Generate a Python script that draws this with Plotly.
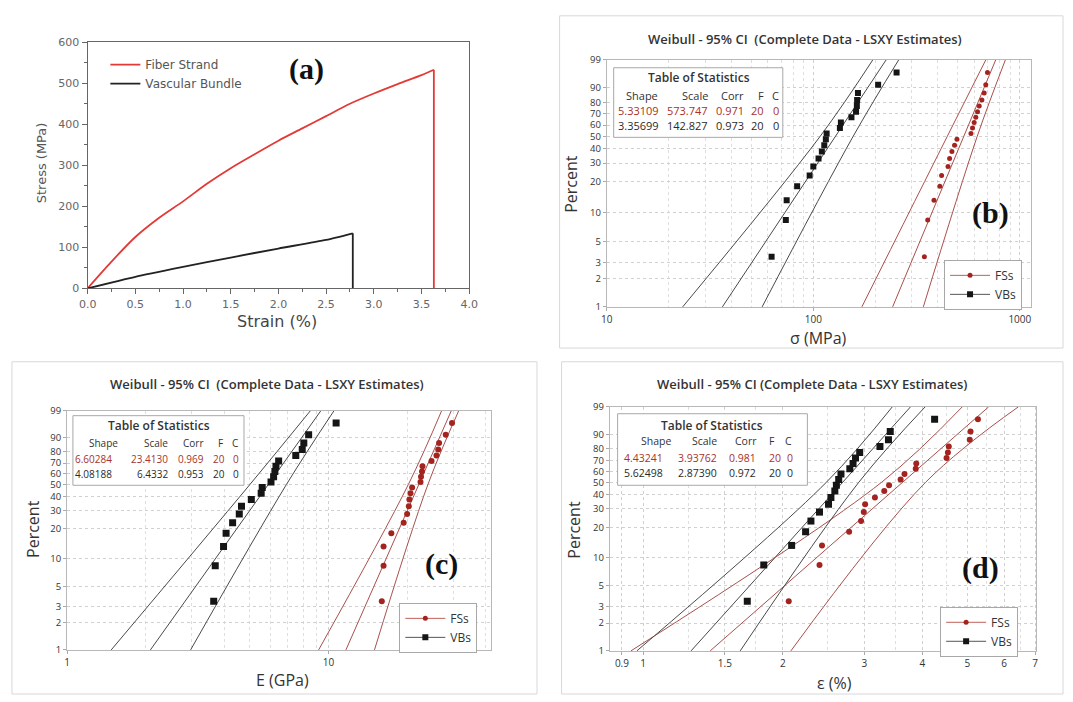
import numpy as np
import plotly.graph_objects as go

W, H = 1073, 702

# ---------------- panel (a): stress-strain curves ----------------
strain_fs = [0, 0.25, 0.5, 0.75, 1.0, 1.25, 1.5, 1.75, 2.0, 2.25, 2.5, 2.75, 3.0, 3.25, 3.5, 3.63]
stress_fs = [0, 65, 125, 172, 212, 255, 293, 327, 360, 390, 420, 450, 475, 498, 520, 533]
strain_vb = [0, 0.5, 1.0, 1.5, 2.0, 2.5, 2.78]
stress_vb = [0, 28, 52, 75, 97, 118, 134]
break_stress = 0  # both curves drop to zero at failure

# ---------------- Weibull plots: median-rank percents ----------------
pct = [3.43, 8.33, 13.24, 18.14, 23.04, 27.94, 32.84, 37.75, 42.65, 47.55,
       52.45, 57.35, 62.25, 67.16, 72.06, 76.96, 81.86, 86.76, 91.67, 96.57]

b_fs = [345, 358, 384, 410, 418, 449, 457, 469, 483, 496, 580, 590, 601, 612, 624, 636, 655, 672, 684, 697]
b_vb = [62.8, 73.6, 74.3, 83.5, 96, 100, 106, 110, 113, 115, 116, 134.5, 136, 153, 161, 162.5, 163, 164.5, 206, 253]
c_fs = [16.0, 16.25, 16.25, 17.4, 19.4, 20.0, 20.3, 20.4, 20.6, 20.9, 22.5, 22.6, 22.8, 22.9, 24.8, 25.9, 26.3, 26.5, 28.1, 29.7]
c_vb = [3.64, 3.69, 3.97, 4.06, 4.30, 4.56, 4.65, 5.07, 5.53, 5.58, 6.03, 6.17, 6.24, 6.30, 6.45, 7.50, 7.94, 8.05, 8.4, 10.7]
d_fs = [2.06, 2.40, 2.43, 2.78, 2.95, 2.99, 3.01, 3.16, 3.31, 3.39, 3.59, 3.66, 3.87, 3.88, 4.51, 4.54, 4.56, 5.06, 5.08, 5.27]
d_vb = [1.677, 1.82, 2.09, 2.24, 2.30, 2.40, 2.51, 2.54, 2.59, 2.61, 2.64, 2.67, 2.79, 2.835, 2.87, 2.93, 3.24, 3.38, 3.41, 4.25]

# confidence-interval curves read at these percents
ci_pct = [1, 50, 99]
b_fs_lo = [171.8, 445.6, 684]
b_fs_hi = [341, 622, 851]
b_vb_lo = [23.3, 108, 194]
b_vb_hi = [56.5, 156, 259]
c_fs_lo = [9.17, 20.2, 27.1]
c_fs_hi = [15.0, 24.0, 31.5]
c_vb_lo = [1.476, 5.0, 8.53]
c_vb_hi = [2.97, 6.9, 10.5]
d_fs_lo = [0.941, 3.266, 4.875]
d_fs_hi = [2.082, 4.064, 6.44]
d_vb_lo = [0.969, 2.483, 3.445]
d_vb_hi = [1.619, 2.917, 4.055]

fit_pct = [1, 99]

# tables of statistics: Shape, Scale, Corr, F, C   (row 0 = FSs, row 1 = VBs)
table_head = ["Shape", "Scale", "Corr", "F", "C"]
b_table = [["5.33109", "573.747", "0.971", "20", "0"], ["3.35699", "142.827", "0.973", "20", "0"]]
c_table = [["6.60284", "23.4130", "0.969", "20", "0"], ["4.08188", "6.4332", "0.953", "20", "0"]]
d_table = [["4.43241", "3.93762", "0.981", "20", "0"], ["5.62498", "2.87390", "0.972", "20", "0"]]

pct_ticks = [1, 2, 3, 5, 10, 20, 30, 40, 50, 60, 70, 80, 90, 99]
b_xticks = [10, 100, 1000]
c_xticks = [1, 10]
d_xticks = [0.9, 1, 1.5, 2, 3, 4, 5, 6, 7]
b_minor = [20, 30, 40, 50, 60, 70, 80, 90, 200, 300, 400, 500, 600, 700, 800, 900]
c_minor = [2, 3, 4, 5, 6, 7, 8, 9, 20, 30, 40]
d_minor = [1.25, 1.75, 2.5, 3.5, 4.5, 5.5, 6.5]


def wt(p):
    p = np.asarray(p, dtype=float) / 100.0
    return np.log(-np.log(1.0 - p))


def fx(px):
    return px / W


def fy(py):
    return 1 - py / H


RED_A = "#e23a36"
FS_C = "#a3241f"
FS_L = "#a8504c"
VB_C = "#151515"
VB_L = "#4a4a4a"
TF = "Open Sans"

fig = go.Figure()

# ---- panel (a)
fig.add_trace(go.Scatter(x=strain_fs, y=stress_fs, mode="lines", name="Fiber Strand",
                         line=dict(color=RED_A, width=1.8, shape="spline", smoothing=0.8),
                         xaxis="x", yaxis="y", legend="legend"))
fig.add_trace(go.Scatter(x=[strain_fs[-1], strain_fs[-1]], y=[stress_fs[-1], break_stress], mode="lines",
                         line=dict(color=RED_A, width=1.8), xaxis="x", yaxis="y", showlegend=False))
fig.add_trace(go.Scatter(x=strain_vb, y=stress_vb, mode="lines", name="Vascular Bundle",
                         line=dict(color="#222222", width=1.8, shape="spline", smoothing=0.6),
                         xaxis="x", yaxis="y", legend="legend"))
fig.add_trace(go.Scatter(x=[strain_vb[-1], strain_vb[-1]], y=[stress_vb[-1], break_stress], mode="lines",
                         line=dict(color="#222222", width=1.8), xaxis="x", yaxis="y", showlegend=False))

msize = {2: (5, 6), 3: (6, 7), 4: (6, 7)}
panels = [
    (2, b_fs, b_vb, b_fs_lo, b_fs_hi, b_vb_lo, b_vb_hi, b_table),
    (3, c_fs, c_vb, c_fs_lo, c_fs_hi, c_vb_lo, c_vb_hi, c_table),
    (4, d_fs, d_vb, d_fs_lo, d_fs_hi, d_vb_lo, d_vb_hi, d_table),
]

for n, fsd, vbd, fslo, fshi, vblo, vbhi, tab in panels:
    xa, ya, lg = f"x{n}", f"y{n}", f"legend{n}"
    for row, col_l in ((tab[0], FS_L), (tab[1], VB_L)):
        shape, scale = float(row[0]), float(row[1])
        fp = np.asarray(fit_pct, dtype=float) / 100.0
        xs = scale * (-np.log(1 - fp)) ** (1.0 / shape)
        fig.add_trace(go.Scatter(x=xs, y=wt(fit_pct), mode="lines", line=dict(color=col_l, width=1),
                                 xaxis=xa, yaxis=ya, showlegend=False, hoverinfo="skip"))
    for arr, col_l in ((fslo, FS_L), (fshi, FS_L), (vblo, VB_L), (vbhi, VB_L)):
        fig.add_trace(go.Scatter(x=arr, y=wt(ci_pct), mode="lines",
                                 line=dict(color=col_l, width=1, shape="spline", smoothing=1.0),
                                 xaxis=xa, yaxis=ya, showlegend=False, hoverinfo="skip"))
    s_fs, s_vb = msize[n]
    fig.add_trace(go.Scatter(x=fsd, y=wt(pct), mode="markers", showlegend=False,
                             marker=dict(symbol="circle", size=s_fs, color=FS_C),
                             xaxis=xa, yaxis=ya))
    fig.add_trace(go.Scatter(x=vbd, y=wt(pct), mode="markers", showlegend=False,
                             marker=dict(symbol="square", size=s_vb, color=VB_C),
                             xaxis=xa, yaxis=ya))
    # legend entries
    fig.add_trace(go.Scatter(x=[None], y=[None], mode="lines+markers", name="FSs",
                             line=dict(color="#c0605a", width=1), marker=dict(symbol="circle", size=5, color=FS_C),
                             xaxis=xa, yaxis=ya, legend=lg))
    fig.add_trace(go.Scatter(x=[None], y=[None], mode="lines+markers", name="VBs",
                             line=dict(color="#555555", width=1), marker=dict(symbol="square", size=6, color=VB_C),
                             xaxis=xa, yaxis=ya, legend=lg))

layout = dict(
    width=W, height=H, margin=dict(l=0, r=0, t=0, b=0),
    paper_bgcolor="white", plot_bgcolor="white", showlegend=True,
    font=dict(family=TF, color="#333"),
)

# axes panel (a)
layout["xaxis"] = dict(domain=[fx(80), fx(468)], anchor="y", range=[0, 4], dtick=0.5, tickformat=".1f",
                       showline=True, linecolor="#666", linewidth=1.2, mirror=True, ticks="outside",
                       ticklen=5, tickcolor="#666", showgrid=False, zeroline=False,
                       tickfont=dict(family="DejaVu Sans", size=11, color="#666"),
                       minor=dict(dtick=0.25, ticks="outside", ticklen=3, tickcolor="#666"))
layout["yaxis"] = dict(domain=[fy(287), fy(36)], anchor="x", range=[0, 600], dtick=100,
                       showline=True, linecolor="#666", linewidth=1.2, mirror=True, ticks="outside",
                       ticklen=5, tickcolor="#666", showgrid=False, zeroline=False,
                       tickfont=dict(family="DejaVu Sans", size=11, color="#666"),
                       minor=dict(dtick=50, ticks="outside", ticklen=3, tickcolor="#666"))

ylo, yhi = float(wt([1])[0]), float(wt([99])[0])
geo = {
    2: dict(x=(608, 1039), y=(54, 306), xr=[1, 3.052], xt=b_xticks, mn=b_minor),
    3: dict(x=(59, 490), y=(412, 656), xr=[0, 1.621], xt=c_xticks, mn=c_minor),
    4: dict(x=(611, 1045), y=(408, 657), xr=[-0.072, 0.848], xt=d_xticks, mn=d_minor),
}
for n, g in geo.items():
    layout[f"xaxis{n}"] = dict(domain=[fx(g["x"][0]), fx(g["x"][1])], anchor=f"y{n}", type="log",
                               range=g["xr"], tickmode="array", tickvals=g["xt"],
                               ticktext=[str(v) for v in g["xt"]],
                               showgrid=True, gridcolor="#d0d0d0", griddash="dot", gridwidth=1,
                               minor=dict(tickmode="array", tickvals=g["mn"], showgrid=True,
                                          gridcolor="#dedede", griddash="dot"),
                               showline=True, linecolor="#b8b8b8", mirror=True, ticks="outside",
                               ticklen=3, tickcolor="#aaa", zeroline=False,
                               tickfont=dict(family=TF, size=10, color="#333"))
    layout[f"yaxis{n}"] = dict(domain=[fy(g["y"][1]), fy(g["y"][0])], anchor=f"x{n}",
                               range=[ylo, yhi], tickmode="array", tickvals=list(wt(pct_ticks)),
                               ticktext=[str(v) for v in pct_ticks],
                               showgrid=True, gridcolor="#d0d0d0", griddash="dot",
                               showline=True, linecolor="#b8b8b8", mirror=True, ticks="outside",
                               ticklen=3, tickcolor="#aaa", zeroline=False,
                               tickfont=dict(family=TF, size=9.5, color="#333"))

layout["legend"] = dict(x=fx(98), y=fy(44), xanchor="left", yanchor="top", bgcolor="rgba(0,0,0,0)",
                        font=dict(family="DejaVu Sans", size=12, color="#555"), itemwidth=30,
                        tracegroupgap=0)
leg_pos = {2: (951, 258), 3: (397, 608), 4: (947, 612)}
for n, (lx, ly) in leg_pos.items():
    layout[f"legend{n}"] = dict(x=fx(lx), y=fy(ly), xanchor="left", yanchor="top", bgcolor="white",
                                bordercolor="#a8a8a8", borderwidth=1,
                                font=dict(family=TF, size=12, color="#333"), itemwidth=40)

shapes = []
# outer boxes of Minitab panels
for (x0, y0, x1, y1) in [(560, 9, 1072, 348), (3, 362, 537, 701), (562, 362, 1072, 701)]:
    shapes.append(dict(type="rect", xref="paper", yref="paper", x0=fx(x0), x1=fx(x1), y0=fy(y1), y1=fy(y0),
                       line=dict(color="#d8d8d8", width=1), fillcolor="rgba(0,0,0,0)", layer="below"))

ann = []


def A(text, px, py, size, color="#333", family=TF, xanchor="center", angle=0, weight=None):
    f = dict(family=family, size=size, color=color)
    if weight:
        f["weight"] = weight
    ann.append(dict(text=text, x=fx(px), y=fy(py), xref="paper", yref="paper", showarrow=False,
                    xanchor=xanchor, yanchor="middle", textangle=angle, font=f))


# panel (a) texts
A("Stress (MPa)", 33, 159, 13, "#555", "DejaVu Sans", angle=-90)
A("Strain (%)", 273, 321, 16, "#444", "DejaVu Sans")
A("(a)", 303, 63, 30, "#111", "Liberation Serif", weight="bold")

# Weibull panel texts
texts = {
    2: dict(title="Weibull - 95% CI  (Complete Data - LSXY Estimates)", t=(810, 33), xl="σ (MPa)", xlp=(823, 338),
            yl=(572, 180), tag="(b)", tagp=(998, 210)),
    3: dict(title="Weibull - 95% CI  (Complete Data - LSXY Estimates)", t=(262, 385), xl="E (GPa)", xlp=(278, 687),
            yl=(25, 533), tag="(c)", tagp=(440, 568)),
    4: dict(title="Weibull - 95% CI (Complete Data - LSXY Estimates)", t=(817, 385), xl="ε (%)", xlp=(840, 690),
            yl=(575, 533), tag="(d)", tagp=(988, 572)),
}
for n, t in texts.items():
    A(t["title"].replace("  ", "&nbsp; "), t["t"][0], t["t"][1], 13, "#333", TF, weight=600)
    A(t["xl"], t["xlp"][0], t["xlp"][1], 16, "#333", TF)
    A("Percent", t["yl"][0], t["yl"][1], 16, "#333", TF, angle=-90)
    A(t["tag"], t["tagp"][0], t["tagp"][1], 30, "#111", "Liberation Serif", weight="bold")

tables = {
    2: dict(tab=b_table, box=(615, 62, 787, 133), tp=(702, 72), hy=90, ry=(106, 121), fs=11,
            hx=[662, 713, 750, 770, 785], vx=[663, 713, 750, 770, 785]),
    3: dict(tab=c_table, box=(65, 417, 239, 488), tp=(153, 427), hy=445, ry=(461, 476), fs=10,
            hx=[113, 164, 200, 220, 235], vx=[107, 164, 200, 222, 236]),
    4: dict(tab=d_table, box=(619, 415, 812, 488), tp=(715, 427), hy=443, ry=(460, 475), fs=10.5,
            hx=[675, 722, 763, 781, 798], vx=[667, 722, 762, 787, 799]),
}
for n, t in tables.items():
    x0, y0, x1, y1 = t["box"]
    shapes.append(dict(type="rect", xref="paper", yref="paper", x0=fx(x0), x1=fx(x1), y0=fy(y1), y1=fy(y0),
                       line=dict(color="#a8a8a8", width=1), fillcolor="white", layer="above"))
    A("Table of Statistics", t["tp"][0], t["tp"][1], 12, "#333", TF, weight=600)
    for h, hx in zip(table_head, t["hx"]):
        A(h, hx, t["hy"], t["fs"], "#333", TF, xanchor="right")
    for ri, (row, col) in enumerate(((t["tab"][0], "#a8322c"), (t["tab"][1], "#2a2a2a"))):
        for v, vx in zip(row, t["vx"]):
            A(v, vx, t["ry"][ri], t["fs"], col, TF, xanchor="right")

layout["shapes"] = shapes
layout["annotations"] = ann
fig.update_layout(**layout)
fig.write_html("out.html")
